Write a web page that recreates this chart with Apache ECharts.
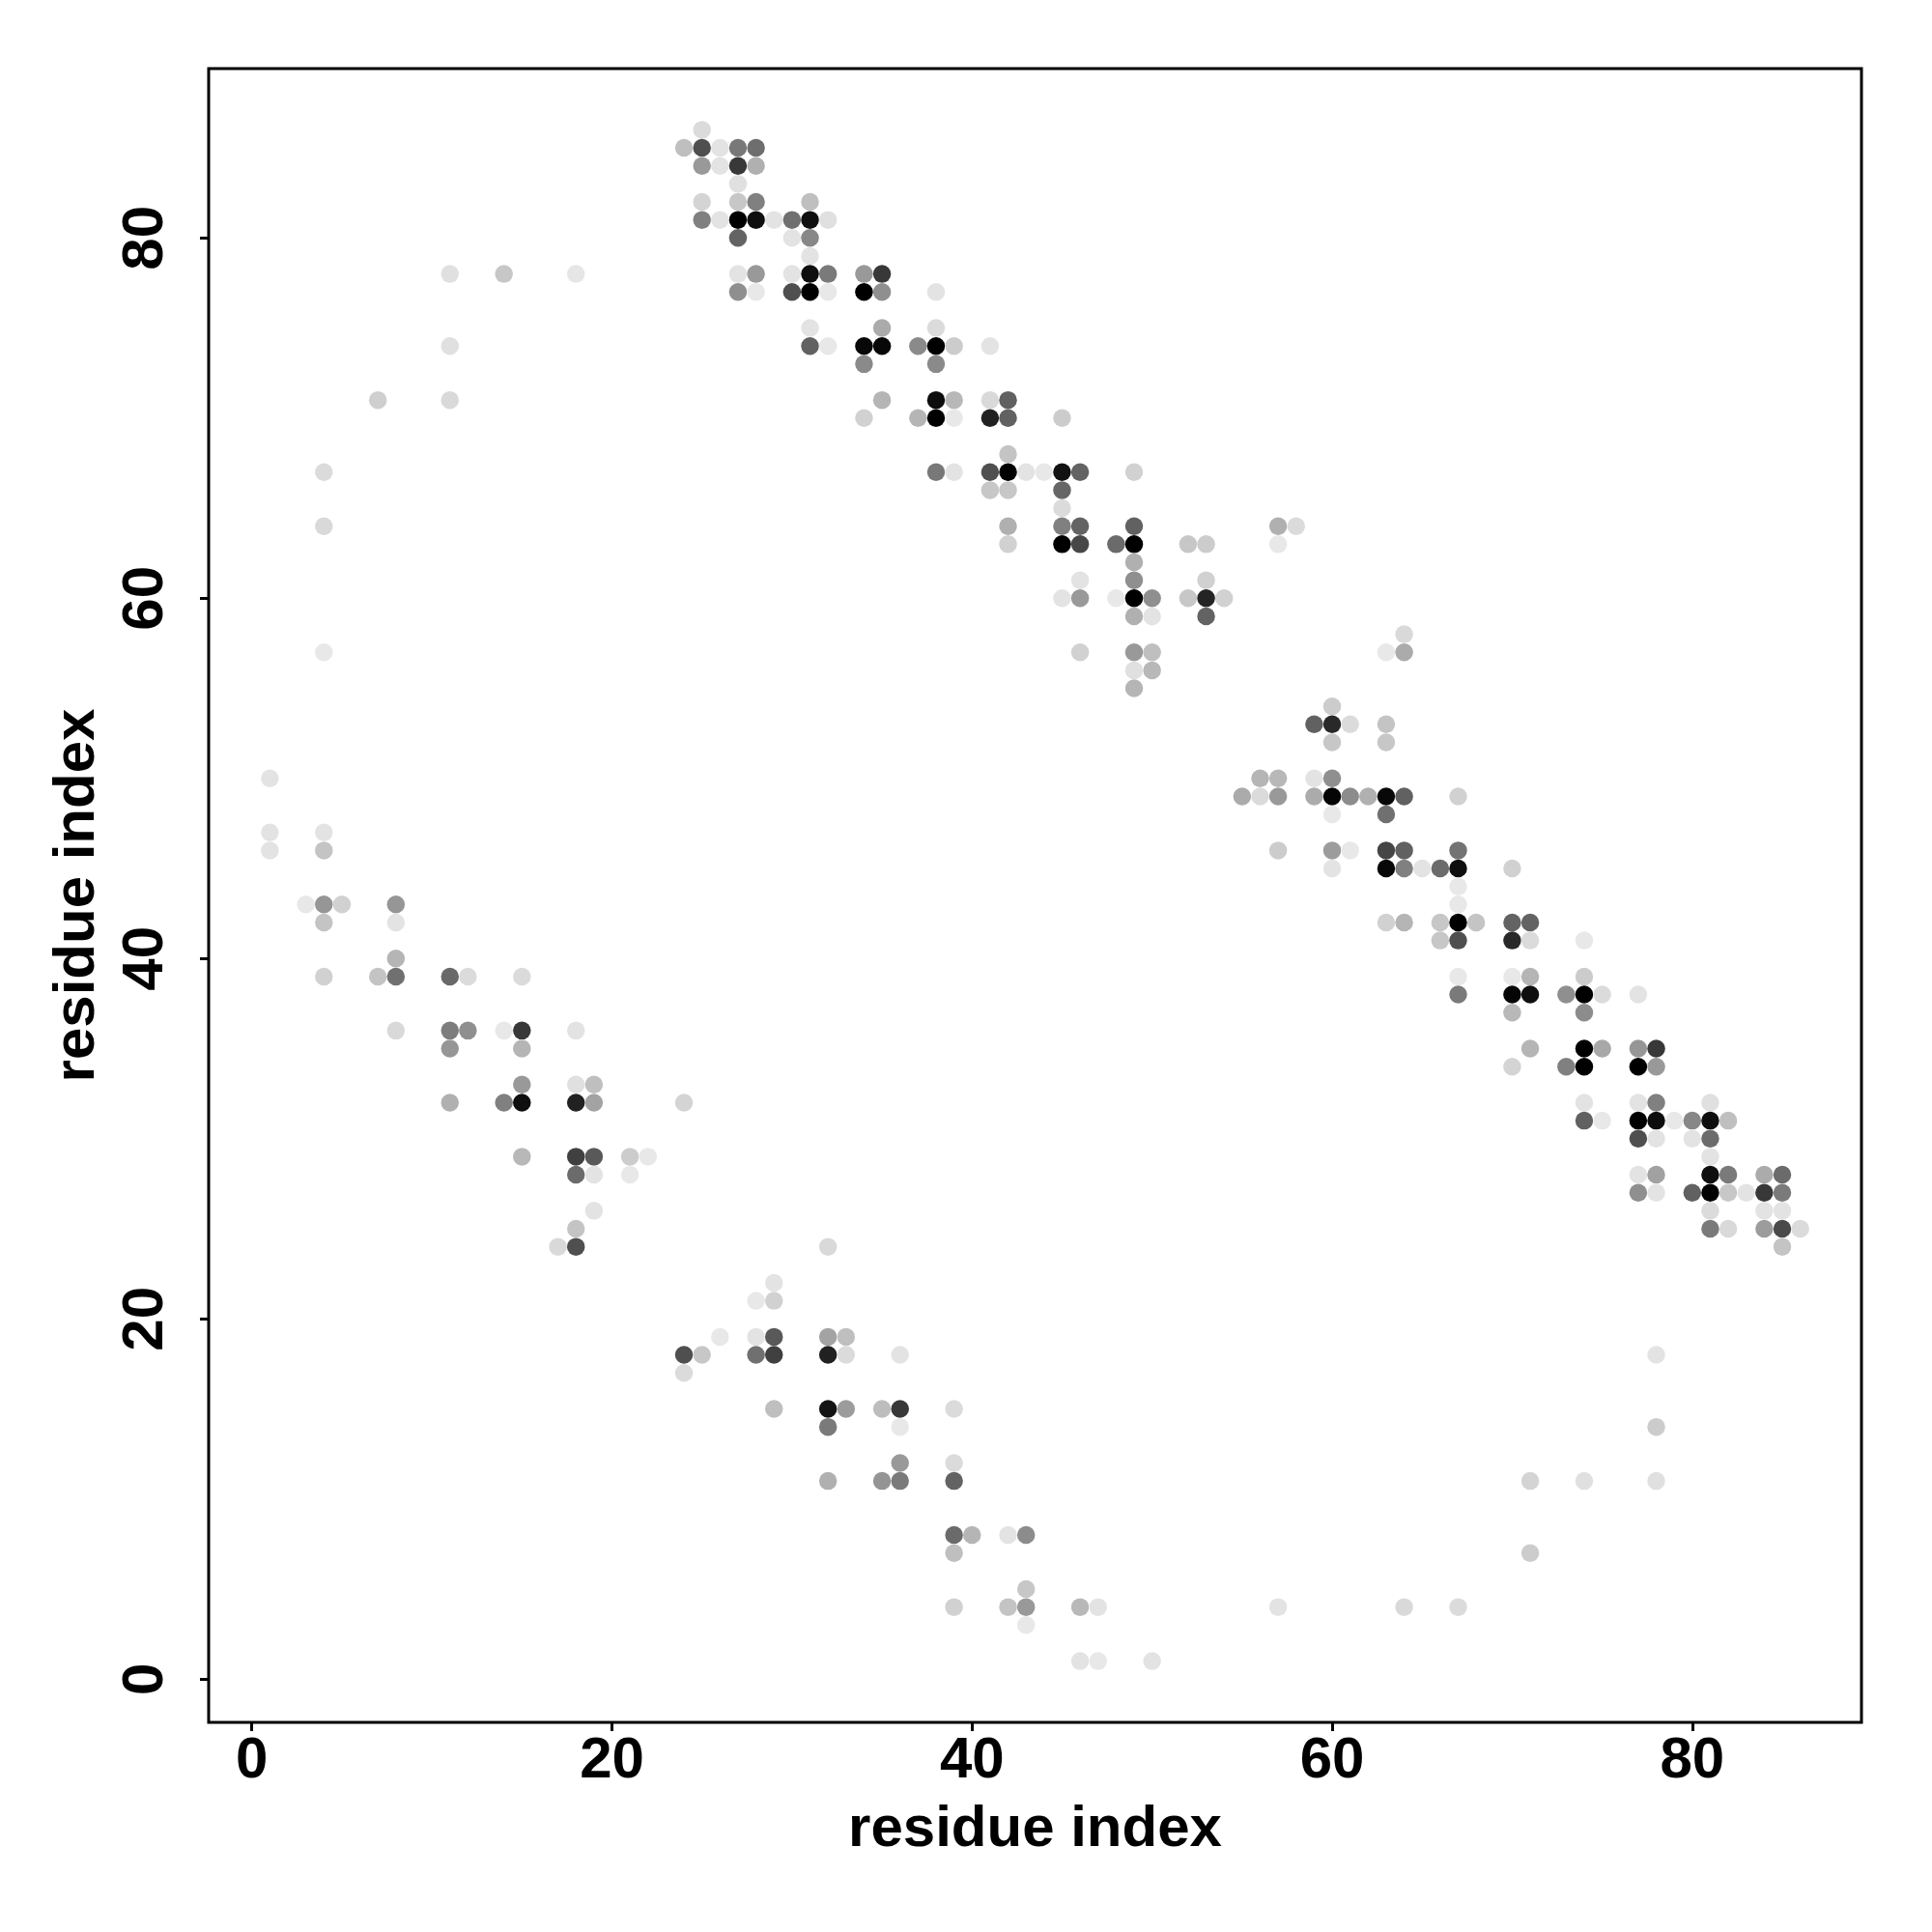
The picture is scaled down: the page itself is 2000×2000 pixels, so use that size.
<!DOCTYPE html>
<html>
<head>
<meta charset="utf-8">
<script src="https://cdn.jsdelivr.net/npm/echarts@6/dist/echarts.min.js"></script>
<style>
html,body{margin:0;padding:0;background:#fff;}
#chart{width:2000px;height:2000px;}
</style>
</head>
<body>
<div id="chart"></div>
<script>
// residue i (x), residue j (y), contact probability (grey level)
var contactI = [
  11,14,18,11,7,11,4,4,4,
  25,24,25,26,27,28,25,26,27,28,27,25,27,28,31,25,26,27,28,29,30,31,32,27,30,31,31,
  27,28,30,31,32,34,35,27,28,30,31,32,34,35,38,31,35,38,31,32,34,35,37,38,39,41,34,38,
  35,38,39,41,42,34,37,38,39,41,42,45,42,38,39,41,42,43,44,45,46,49,41,42,45,
  45,42,45,46,49,57,58,42,45,46,48,49,52,53,57,49,46,49,53,45,46,48,49,50,52,53,54,49,50,53,46,49,50,49,50,49,
  64,63,64,60,59,60,61,63,60,63,56,57,59,60,55,56,57,59,60,61,62,63,64,67,60,63,
  57,60,61,63,64,67,60,63,64,65,66,67,70,67,67,63,64,66,67,68,70,71,66,67,70,71,74,67,70,71,74,67,70,71,73,74,75,77,70,74,
  71,74,75,77,78,70,73,74,77,78,74,77,78,81,74,75,77,78,79,80,81,82,77,78,80,81,81,
  77,78,81,82,84,85,77,78,80,81,82,83,84,85,81,84,85,81,82,84,85,86,85,
  78,78,71,74,78,71,57,64,67,
  1,1,4,1,4,3,4,5,8,4,8,8,4,7,8,11,12,15,8,11,12,14,15,18,11,15,15,18,19,11,14,15,18,19,24,
  15,18,19,21,22,18,19,21,19,18,17,18,32,29,
  28,29,26,28,29,32,33,24,25,28,29,32,33,36,24,29,32,33,35,36,39,32,36,36,39,32,35,36,39,
  39,40,42,43,39,43,39,42,43,46,47,43,46,47,50
];
var contactJ = [
  78,78,78,74,71,71,67,64,57,
  86,85,85,85,85,85,84,84,84,84,83,82,82,82,82,81,81,81,81,81,81,81,81,80,80,80,79,
  78,78,78,78,78,78,78,77,77,77,77,77,77,77,77,75,75,75,74,74,74,74,74,74,74,74,73,73,
  71,71,71,71,71,70,70,70,70,70,70,70,68,67,67,67,67,67,67,67,67,67,66,66,66,
  65,64,64,64,64,64,64,63,63,63,63,63,63,63,63,62,61,61,61,60,60,60,60,60,60,60,60,59,59,59,57,57,57,56,56,55,
  58,57,57,54,53,53,53,53,52,52,50,50,50,50,49,49,49,49,49,49,49,49,49,49,48,48,
  46,46,46,46,46,46,45,45,45,45,45,45,45,44,43,42,42,42,42,42,42,42,41,41,41,41,41,39,39,39,39,38,38,38,38,38,38,38,37,37,
  35,35,35,35,35,34,34,34,34,34,32,32,32,32,31,31,31,31,31,31,31,31,30,30,30,30,29,
  28,28,28,28,28,28,27,27,27,27,27,27,27,27,26,26,26,25,25,25,25,25,24,
  18,14,11,11,11,7,4,4,4,
  50,47,47,46,46,43,43,43,43,42,42,40,39,39,39,39,39,39,36,36,36,36,36,36,35,35,33,33,33,32,32,32,32,32,32,
  29,29,29,29,29,28,28,28,26,25,24,24,24,22,
  21,21,19,19,19,19,19,18,18,18,18,18,18,18,17,15,15,15,15,15,15,14,14,12,12,11,11,11,11,
  8,8,8,8,7,5,4,4,4,4,4,3,1,1,1
];
var contactP = [
  0.12,0.22,0.10,0.12,0.19,0.15,0.14,0.15,0.09,
  0.14,0.25,0.69,0.11,0.53,0.57,0.40,0.11,0.78,0.31,0.12,0.17,0.22,0.50,0.25,0.50,0.11,1.00,0.94,0.11,0.56,0.94,0.12,0.61,0.11,0.47,0.11,
  0.11,0.40,0.11,0.94,0.52,0.40,0.78,0.44,0.09,0.69,1.00,0.09,1.00,0.44,0.11,0.11,0.33,0.14,0.62,0.09,0.97,0.97,0.46,1.00,0.20,0.11,0.46,0.46,
  0.29,0.95,0.28,0.15,0.62,0.18,0.29,1.00,0.09,0.87,0.62,0.20,0.23,0.53,0.11,0.69,1.00,0.11,0.09,0.93,0.61,0.18,0.22,0.22,0.60,
  0.14,0.31,0.50,0.61,0.62,0.31,0.14,0.18,1.00,0.72,0.58,1.00,0.22,0.20,0.09,0.31,0.11,0.44,0.18,0.11,0.40,0.09,1.00,0.44,0.22,0.86,0.18,0.31,0.11,0.61,0.18,0.40,0.25,0.12,0.28,0.29,
  0.15,0.09,0.33,0.20,0.62,0.84,0.14,0.23,0.22,0.22,0.29,0.28,0.11,0.44,0.33,0.14,0.40,0.33,0.98,0.45,0.31,0.97,0.62,0.18,0.09,0.56,
  0.20,0.39,0.09,0.73,0.62,0.55,0.11,0.97,0.50,0.11,0.58,0.94,0.18,0.09,0.09,0.18,0.29,0.22,1.00,0.23,0.61,0.61,0.22,0.69,0.84,0.14,0.09,0.09,0.09,0.29,0.20,0.52,0.98,0.94,0.44,1.00,0.14,0.11,0.28,0.45,
  0.29,1.00,0.34,0.41,0.78,0.17,0.50,1.00,1.00,0.40,0.11,0.11,0.50,0.12,0.62,0.09,1.00,0.95,0.09,0.47,0.94,0.25,0.69,0.11,0.11,0.58,0.11,
  0.11,0.37,0.94,0.52,0.33,0.58,0.44,0.11,0.62,1.00,0.22,0.11,0.78,0.52,0.14,0.11,0.11,0.52,0.15,0.39,0.71,0.14,0.23,
  0.11,0.20,0.17,0.12,0.12,0.20,0.11,0.15,0.14,
  0.11,0.11,0.11,0.11,0.23,0.09,0.41,0.18,0.41,0.23,0.11,0.29,0.18,0.23,0.56,0.59,0.14,0.14,0.15,0.51,0.44,0.09,0.78,0.11,0.41,0.29,0.40,0.12,0.25,0.31,0.50,0.94,0.87,0.36,0.17,
  0.28,0.75,0.65,0.20,0.09,0.58,0.11,0.09,0.11,0.23,0.15,0.69,0.15,0.11,
  0.09,0.18,0.09,0.11,0.65,0.36,0.25,0.69,0.22,0.56,0.75,0.87,0.14,0.11,0.14,0.25,0.92,0.39,0.26,0.78,0.14,0.52,0.09,0.40,0.14,0.31,0.42,0.52,0.61,
  0.58,0.29,0.11,0.45,0.25,0.22,0.18,0.23,0.40,0.28,0.11,0.09,0.11,0.09,0.11
];
var tickValues = [0, 20, 40, 60, 80];
var axisMin = -2.4, axisMax = 89.4;

var points = [];
for (var k = 0; k < contactI.length; k++) {
  points.push([contactI[k], contactJ[k], contactP[k]]);
}

var chart = echarts.init(document.getElementById('chart'), null, {renderer: 'canvas'});
var fontFam = '"Liberation Sans", Arial, Helvetica, sans-serif';
function axisCommon(isY) {
  return {
    type: 'value',
    min: axisMin,
    max: axisMax,
    axisLine: {show: false, onZero: false},
    splitLine: {show: false},
    axisTick: {show: true, inside: false, length: 9, customValues: tickValues,
               lineStyle: {color: '#000', width: 3}},
    axisLabel: {show: true, customValues: tickValues, color: '#000',
                fontSize: 60, fontWeight: 'bold', fontFamily: fontFam,
                rotate: isY ? 90 : 0, margin: isY ? 35 : 10},
    name: 'residue index',
    nameLocation: 'middle',
    nameGap: isY ? 106 : 81,
    nameTextStyle: {color: '#000', fontSize: 60, fontWeight: 'bold', fontFamily: fontFam}
  };
}
chart.setOption({
  backgroundColor: '#ffffff',
  animation: false,
  grid: {left: 216, right: 73, top: 71, bottom: 217, show: true,
         borderColor: '#000', borderWidth: 3, backgroundColor: 'transparent'},
  xAxis: axisCommon(false),
  yAxis: axisCommon(true),
  visualMap: {type: 'continuous', show: false, dimension: 2, min: 0, max: 1,
              inRange: {color: ['#ffffff', '#000000']}},
  series: [{
    type: 'scatter',
    symbol: 'circle',
    symbolSize: 18.5,
    data: points,
    itemStyle: {opacity: 1}
  }]
});
</script>
</body>
</html>
